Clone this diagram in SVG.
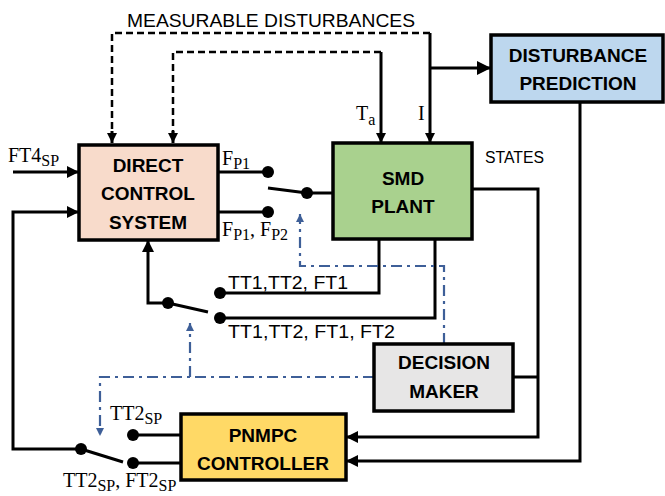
<svg xmlns="http://www.w3.org/2000/svg" width="665" height="496" viewBox="0 0 665 496">
<defs>
<style>
.box{stroke:#000;stroke-width:3.5}
.bt{font-family:"Liberation Sans",Arial,sans-serif;font-weight:bold;font-size:19px;text-anchor:middle;fill:#000}
.lbl{font-family:"Liberation Sans",Arial,sans-serif;font-size:19px;fill:#000}
.ser{font-family:"Liberation Serif","Times New Roman",serif;font-size:20px;fill:#000}
.sub{font-size:16px}
.ln{fill:none;stroke:#000;stroke-width:3}
.dash{fill:none;stroke:#000;stroke-width:2.5;stroke-dasharray:7 4}
.dd{fill:none;stroke:#3E5F98;stroke-width:2.2;stroke-dasharray:11 5 3 5}
.dot{fill:#000}
</style>
<marker id="ah" markerUnits="userSpaceOnUse" markerWidth="14" markerHeight="12" refX="12" refY="6" orient="auto"><path d="M0,0 L12,6 L0,12 z" fill="#000"/></marker>
<marker id="ahs" markerUnits="userSpaceOnUse" markerWidth="12" markerHeight="10" refX="10" refY="5" orient="auto"><path d="M0,0 L10,5 L0,10 z" fill="#000"/></marker>
<marker id="ahb" markerUnits="userSpaceOnUse" markerWidth="16" markerHeight="14" refX="14" refY="7" orient="auto"><path d="M0,0 L14,7 L0,14 z" fill="#000"/></marker>
<marker id="ahd" markerUnits="userSpaceOnUse" markerWidth="10" markerHeight="8" refX="8" refY="4" orient="auto"><path d="M0,0 L8,4 L0,8 z" fill="#3E5F98"/></marker>
</defs>
<rect width="665" height="496" fill="#fff"/>

<g id="connectors">
  <path class="dash" d="M430,33 H112 V133"/>
  <path class="ln" d="M112,131 V143" marker-end="url(#ahs)"/>
  <path class="dash" d="M381,52 H173 V133"/>
  <path class="ln" d="M173,131 V143" marker-end="url(#ahs)"/>
  <path class="ln" d="M430,33 V143" marker-end="url(#ahs)" stroke-width="2.5"/>
  <path class="ln" d="M381,52 V143" marker-end="url(#ahs)" stroke-width="2.5"/>
  <path class="ln" d="M430,68 H491" stroke-width="4" marker-end="url(#ahb)"/>
  <path class="ln" d="M13,172 H79" marker-end="url(#ah)"/>
  <path class="ln" d="M81,449 H13 V212 H79" marker-end="url(#ah)"/>
  <path class="ln" d="M218,172 H268"/>
  <path class="ln" d="M218,212 H268"/>
  <path class="ln" d="M268,188 L307,193" stroke-width="2.5"/>
  <path class="ln" d="M307,193 H333"/>
  <path class="ln" d="M379,239 V293 H220"/>
  <path class="ln" d="M435,239 V318 H220"/>
  <path class="ln" d="M208,312 L168,303" stroke-width="2.5"/>
  <path class="ln" d="M168,303 H148 V240" marker-end="url(#ah)"/>
  <path class="ln" d="M472,189 H538 V437 H346" marker-end="url(#ah)"/>
  <path class="ln" d="M513,377 H538"/>
  <path class="ln" d="M580,102 V461 H346" marker-end="url(#ah)"/>
  <path class="ln" d="M181,435 H133"/>
  <path class="ln" d="M181,463 H133"/>
  <path class="ln" d="M123,462 L81,449" stroke-width="2.5"/>
  <path class="dd" d="M444,344 V266 H300 V214" marker-end="url(#ahd)"/>
  <path class="dd" d="M374,377 H100 V436" marker-end="url(#ahd)"/>
  <path class="dd" d="M190,377 V323" marker-end="url(#ahd)"/>
  <circle class="dot" cx="268" cy="172" r="6"/>
  <circle class="dot" cx="268" cy="212" r="6"/>
  <circle class="dot" cx="307" cy="193" r="6"/>
  <circle class="dot" cx="220" cy="293" r="6"/>
  <circle class="dot" cx="220" cy="318" r="6"/>
  <circle class="dot" cx="168" cy="303" r="6"/>
  <circle class="dot" cx="133" cy="435" r="6"/>
  <circle class="dot" cx="133" cy="463" r="6"/>
  <circle class="dot" cx="81" cy="449" r="6"/>
</g>

<g id="labels">
  <text class="lbl" x="127" y="27" textLength="288" lengthAdjust="spacingAndGlyphs">MEASURABLE DISTURBANCES</text>
  <text class="ser" x="356" y="120">T<tspan class="sub" dy="5">a</tspan></text>
  <text class="ser" x="418" y="120">I</text>
  <text class="lbl" x="485" y="163" style="font-size:16px" textLength="59" lengthAdjust="spacingAndGlyphs">STATES</text>
  <text class="ser" x="8" y="162">FT4<tspan class="sub" dy="4">SP</tspan></text>
  <text class="ser" x="222" y="165">F<tspan class="sub" dy="4">P1</tspan></text>
  <text class="ser" x="222" y="236">F<tspan class="sub" dy="4">P1</tspan><tspan dy="-4">, F</tspan><tspan class="sub" dy="4">P2</tspan></text>
  <text class="lbl" x="228" y="289" textLength="120" lengthAdjust="spacingAndGlyphs">TT1,TT2, FT1</text>
  <text class="lbl" x="228" y="338" textLength="167" lengthAdjust="spacingAndGlyphs">TT1,TT2, FT1, FT2</text>
  <text class="ser" x="110" y="420">TT2<tspan class="sub" dy="4">SP</tspan></text>
  <text class="ser" x="63" y="487">TT2<tspan class="sub" dy="4">SP</tspan><tspan dy="-4">, FT2</tspan><tspan class="sub" dy="4">SP</tspan></text>
</g>

<g id="dcs">
  <rect class="box" x="79" y="145" width="139" height="95" fill="#F8DBCB"/>
  <text class="bt" x="148" y="172">DIRECT</text>
  <text class="bt" x="148" y="200">CONTROL</text>
  <text class="bt" x="148" y="229">SYSTEM</text>
</g>
<g id="smd">
  <rect class="box" x="333" y="143" width="139" height="96" fill="#A9D18E"/>
  <text class="bt" x="403" y="185">SMD</text>
  <text class="bt" x="403" y="213">PLANT</text>
</g>
<g id="dp">
  <rect class="box" x="491" y="35" width="172" height="67" fill="#BDD7EE"/>
  <text class="bt" x="578" y="62">DISTURBANCE</text>
  <text class="bt" x="578" y="90">PREDICTION</text>
</g>
<g id="dm">
  <rect class="box" x="374" y="344" width="139" height="67" fill="#E7E6E6"/>
  <text class="bt" x="444" y="369">DECISION</text>
  <text class="bt" x="444" y="398">MAKER</text>
</g>
<g id="pnmpc">
  <rect class="box" x="181" y="414" width="165" height="66" fill="#FFD966"/>
  <text class="bt" x="263" y="442">PNMPC</text>
  <text class="bt" x="263" y="470">CONTROLLER</text>
</g>
</svg>
